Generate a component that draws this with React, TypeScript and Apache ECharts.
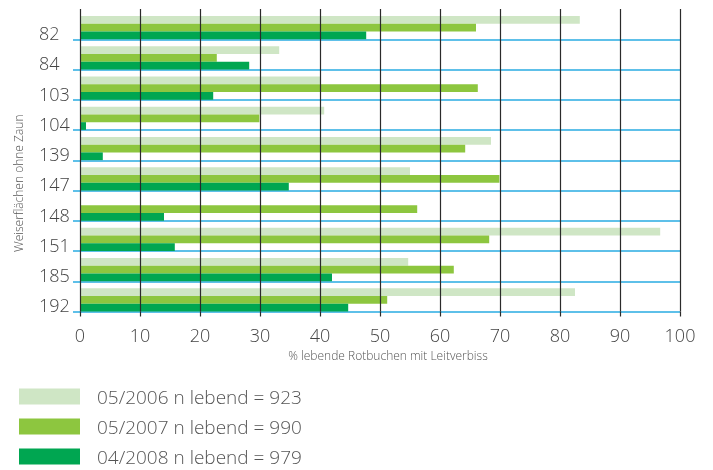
import React, { useEffect, useRef } from "react";
import * as echarts from "echarts";

const categories = ["82", "84", "103", "104", "139", "147", "148", "151", "185", "192"];
const s2006 = [83.3, 33.2, 40.0, 40.7, 68.5, 55.0, 0, 96.7, 54.7, 82.5];
const s2007 = [66.0, 22.8, 66.3, 29.9, 64.2, 69.9, 56.2, 68.2, 62.3, 51.2];
const s2008 = [47.7, 28.2, 22.2, 1.0, 3.8, 34.8, 14.0, 15.8, 42.0, 44.7];
const seriesNames = ["05/2006 n lebend = 923", "05/2007 n lebend = 990", "04/2008 n lebend = 979"];
const xTicks = { min: 0, max: 100, interval: 10 };
const colors = ["#cfe6c5", "#8dc63f", "#00a651"];
const FONT = "Open Sans";
const WEIGHT = 300;

export default function App() {
  const ref = useRef<HTMLDivElement>(null);
  useEffect(() => {
    if (!ref.current) return;
    const chart = echarts.init(ref.current, null, { renderer: "svg" });
    const dataSets = [s2006, s2007, s2008];
    chart.setOption({
      animation: false,
      textStyle: { fontFamily: FONT, fontWeight: WEIGHT },
      grid: { left: 80, right: 33, top: 9, height: 302.5, outerBoundsMode: "none" },
      legend: {
        data: seriesNames,
        orient: "vertical",
        left: 19,
        top: 387,
        height: 90,
        padding: 0,
        itemWidth: 61,
        itemHeight: 16,
        itemGap: 11,
        icon: "rect",
        textStyle: {
          fontSize: 19,
          lineHeight: 16,
          color: "#555",
          fontFamily: FONT,
          fontWeight: WEIGHT,
          padding: [0, 0, 0, 12],
        },
      },
      xAxis: {
        type: "value",
        min: xTicks.min,
        max: xTicks.max,
        interval: xTicks.interval,
        z: 5,
        name: "% lebende Rotbuchen mit Leitverbiss",
        nameLocation: "middle",
        nameGap: 38,
        nameTextStyle: { fontSize: 12, color: "#555", fontFamily: FONT, fontWeight: WEIGHT, padding: [0, 0, 0, 16] },
        axisLine: { show: false },
        axisTick: { show: true, length: 5, lineStyle: { color: "#2b2b2b", width: 1.2 } },
        axisLabel: { fontSize: 18, color: "#444", margin: 14, fontFamily: FONT, fontWeight: WEIGHT },
        splitLine: { show: true, lineStyle: { color: "#2b2b2b", width: 1.2 } },
      },
      yAxis: {
        type: "category",
        data: categories,
        inverse: true,
        name: "Weiserflächen ohne Zaun",
        nameLocation: "middle",
        nameRotate: 90,
        nameGap: 56,
        nameTextStyle: { fontSize: 12, color: "#555", fontFamily: FONT, fontWeight: WEIGHT, padding: [0, 46, 0, 0] },
        axisLine: { show: false },
        axisTick: {
          show: true,
          length: 7,
          interval: (i: number) => i !== 0,
          lineStyle: { color: "#29abe2", width: 1.5 },
        },
        axisLabel: {
          interval: 0,
          fontSize: 18,
          lineHeight: 18,
          color: "#444",
          align: "left",
          verticalAlign: "top",
          margin: 41,
          fontFamily: FONT,
          fontWeight: WEIGHT,
        },
        splitLine: { show: true, showMinLine: false, interval: 0, lineStyle: { color: "#29abe2", width: 1.5 } },
      },
      series: [
        {
          type: "bar",
          name: "",
          data: categories.map(() => 0),
          barWidth: 6.9,
          barGap: 0,
          silent: true,
          itemStyle: { color: "transparent" },
        },
        ...dataSets.map((d, i) => ({
          type: "bar",
          name: seriesNames[i],
          data: d,
          barWidth: 7.7,
          barGap: 0,
          itemStyle: { color: colors[i] },
        })),
      ],
    });
    return () => chart.dispose();
  }, []);
  return <div ref={ref} style={{ position: "fixed", left: 0, top: 0, width: 713, height: 470 }} />;
}
